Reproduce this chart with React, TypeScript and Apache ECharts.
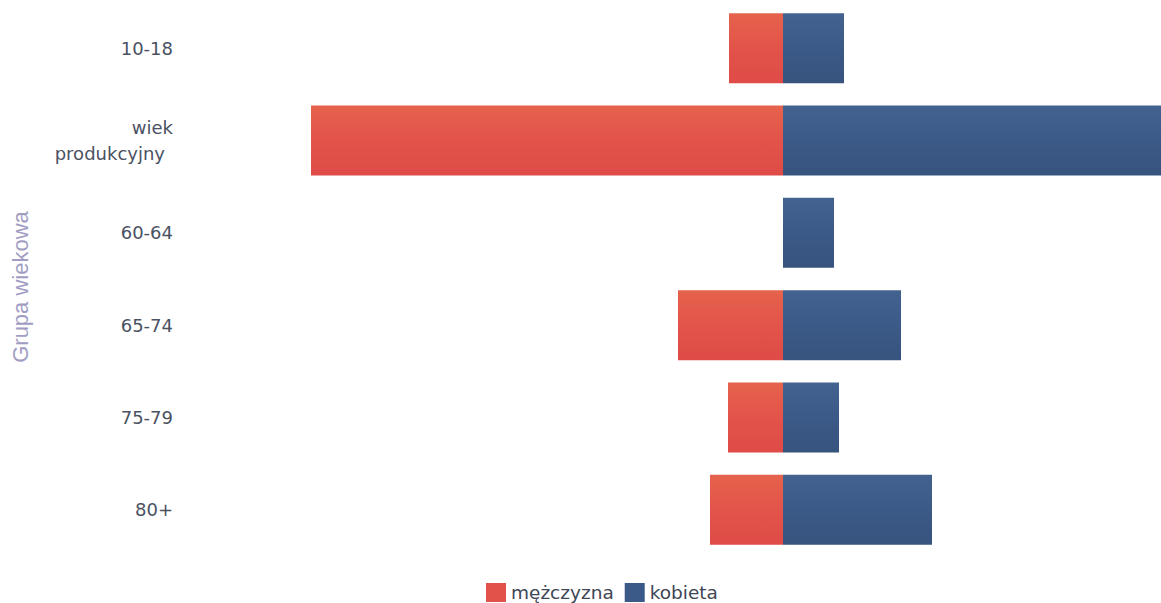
import React, { useEffect, useRef } from "react";
import * as echarts from "echarts";

const categories = ["10-18", "wiek produkcyjny", "60-64", "65-74", "75-79", "80+"];
const maleValues = [54, 472, 0, 105, 55, 73];
const femaleValues = [61, 378, 51, 118, 56, 149];
const seriesNames = ["mężczyzna", "kobieta"];

export default function App() {
  const ref = useRef<HTMLDivElement>(null);
  useEffect(() => {
    const chart = echarts.init(ref.current!, null, { renderer: "svg" });
    const red = new echarts.graphic.LinearGradient(0, 0, 0, 1, [
      { offset: 0, color: "#e5634c" },
      { offset: 0.5, color: "#e3534a" },
      { offset: 1, color: "#df4b47" },
    ]);
    const blue = new echarts.graphic.LinearGradient(0, 0, 0, 1, [
      { offset: 0, color: "#44628f" },
      { offset: 0.5, color: "#3c5a87" },
      { offset: 1, color: "#37537e" },
    ]);
    chart.setOption({
      animation: false,
      grid: { left: 303, right: 0, top: 2, bottom: 47 },
      legend: {
        left: 486,
        top: 583,
        padding: 0,
        itemWidth: 20,
        itemHeight: 19,
        itemGap: 11,
        icon: "rect",
        textStyle: { fontFamily: "DejaVu Sans", fontSize: 18.5, color: "#3e4655" },
        data: [
          { name: seriesNames[0], itemStyle: { color: "#e2524a" } },
          { name: seriesNames[1], itemStyle: { color: "#3c5a88" } },
        ],
      },
      xAxis: {
        type: "value",
        min: -480,
        max: 378,
        show: false,
        splitLine: { show: false },
      },
      yAxis: {
        type: "category",
        inverse: true,
        data: categories,
        name: "Grupa wiekowa",
        nameLocation: "middle",
        nameGap: 272,
        nameTextStyle: {
          fontFamily: "Liberation Sans",
          fontSize: 22,
          color: "#a19dc2",
          padding: [0, 16, 0, 0],
        },
        axisLine: { show: false },
        axisTick: { show: false },
        splitLine: { show: false },
        axisLabel: {
          margin: 130,
          fontFamily: "DejaVu Sans",
          fontSize: 18,
          color: "#4a5262",
          lineHeight: 26,
          formatter: (v: string) =>
            v === "wiek produkcyjny" ? "{a|wiek}\n{b|produkcyjny}" : v,
          rich: {
            a: { fontFamily: "DejaVu Sans", fontSize: 18, color: "#4a5262", lineHeight: 26 },
            b: {
              fontFamily: "DejaVu Sans",
              fontSize: 18,
              color: "#4a5262",
              lineHeight: 26,
              padding: [0, 8, 0, 0],
            },
          },
        },
      },
      series: [
        {
          name: seriesNames[0],
          type: "bar",
          stack: "total",
          barWidth: 70,
          itemStyle: { color: red },
          data: maleValues.map((v) => -v),
        },
        {
          name: seriesNames[1],
          type: "bar",
          stack: "total",
          barWidth: 70,
          itemStyle: { color: blue },
          data: femaleValues,
        },
      ],
    });
    return () => chart.dispose();
  }, []);
  return (
    <div
      ref={ref}
      style={{ position: "absolute", left: 0, top: 0, width: 1161, height: 603, background: "#fff" }}
    />
  );
}
